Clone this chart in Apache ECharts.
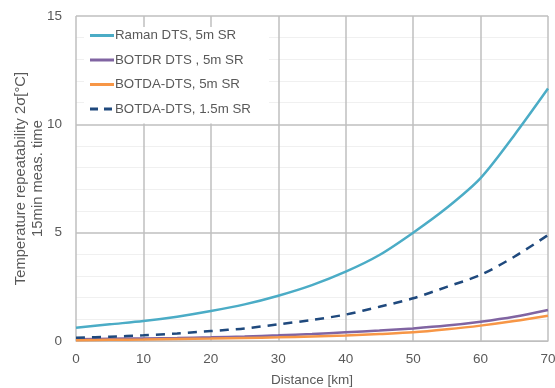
<!DOCTYPE html>
<html>
<head>
<meta charset="utf-8">
<script src="https://cdn.jsdelivr.net/npm/echarts@6/dist/echarts.min.js"></script>
<style>
  html, body { margin: 0; padding: 0; background: #fff; }
  #chart { width: 555px; height: 388px; }
</style>
</head>
<body>
<div id="chart"></div>
<script>
const distance = [0, 5, 10, 15, 20, 25, 30, 35, 40, 45, 50, 55, 60, 65, 70];
const ramanDts = [0.61, 0.77, 0.92, 1.12, 1.38, 1.69, 2.09, 2.58, 3.2, 3.97, 5.0, 6.15, 7.52, 9.5, 11.65];
const botdrDts = [0.08, 0.1, 0.12, 0.14, 0.17, 0.21, 0.26, 0.32, 0.4, 0.48, 0.58, 0.71, 0.89, 1.12, 1.43];
const botda5m = [0.04, 0.055, 0.07, 0.09, 0.11, 0.14, 0.17, 0.21, 0.25, 0.32, 0.4, 0.54, 0.71, 0.92, 1.17];
const botda15m = [0.15, 0.2, 0.26, 0.35, 0.46, 0.58, 0.77, 0.97, 1.22, 1.58, 1.97, 2.5, 3.05, 3.89, 4.89];

const seriesNames = ['Raman DTS, 5m SR', 'BOTDR DTS , 5m SR', 'BOTDA-DTS, 5m SR', 'BOTDA-DTS, 1.5m SR'];
const seriesColors = ['#4bacc6', '#8064a2', '#f79646', '#1f497d'];

function pairs(vals) {
  return distance.map((d, i) => [d, vals[i]]);
}

const chart = echarts.init(document.getElementById('chart'));
const txt = '#595959';
const font = 'Liberation Sans';
const solidIcon = 'path://M0,0H24V3H0Z';
const dashIcon = 'path://M0,0H8V3H0Z M14,0H22V3H14Z M24,0H24.01V3H24Z';

function line(i, vals, z, dash) {
  return {
    name: seriesNames[i], type: 'line', data: pairs(vals),
    smooth: 0.3,
    symbol: 'none', z: z,
    lineStyle: { color: seriesColors[i], width: 2.5, type: dash || 'solid' },
    itemStyle: { color: seriesColors[i] }
  };
}

chart.setOption({
  animation: false,
  grid: { left: 76, right: 7, top: 16, bottom: 47, outerBoundsMode: 'none' },
  legend: {
    orient: 'vertical',
    left: 84,
    top: 27,
    itemWidth: 24,
    itemHeight: 3,
    itemGap: 11.5,
    padding: [2, 18, 8, 6],
    backgroundColor: '#fff',
    textStyle: { color: txt, fontSize: 13.3, fontFamily: font, padding: [0, 0, 0, -4] },
    data: seriesNames.map((n, i) => ({ name: n, icon: i === 3 ? dashIcon : solidIcon }))
  },
  xAxis: {
    type: 'value',
    min: 0, max: 70, interval: 10,
    name: 'Distance [km]',
    nameLocation: 'middle',
    nameGap: 32,
    nameMoveOverlap: false,
    nameTextStyle: { color: txt, fontSize: 13.5, fontFamily: font },
    axisLine: { lineStyle: { color: '#bfbfbf' } },
    axisTick: { show: false },
    axisLabel: { color: txt, fontSize: 13.5, fontFamily: font, margin: 11 },
    splitLine: { lineStyle: { color: '#bfbfbf', width: 1.5 } }
  },
  yAxis: {
    type: 'value',
    min: 0, max: 15, interval: 5,
    name: 'Temperature repeatability 2σ[°C]\n15min meas. time',
    nameLocation: 'middle',
    nameGap: 30,
    nameMoveOverlap: false,
    nameTextStyle: { color: txt, fontSize: 14.8, fontFamily: font, lineHeight: 17 },
    axisLine: { show: false },
    axisTick: { show: false },
    axisLabel: { color: txt, fontSize: 13.5, fontFamily: font, margin: 14 },
    splitLine: { lineStyle: { color: '#bfbfbf', width: 1.5 } },
    minorTick: { show: false, splitNumber: 5 },
    minorSplitLine: { show: true, lineStyle: { color: '#f0f0f0', width: 1 } }
  },
  series: [
    line(0, ramanDts, 4),
    line(1, botdrDts, 3),
    line(2, botda5m, 3),
    line(3, botda15m, 4, [9, 7])
  ]
});
</script>
</body>
</html>
